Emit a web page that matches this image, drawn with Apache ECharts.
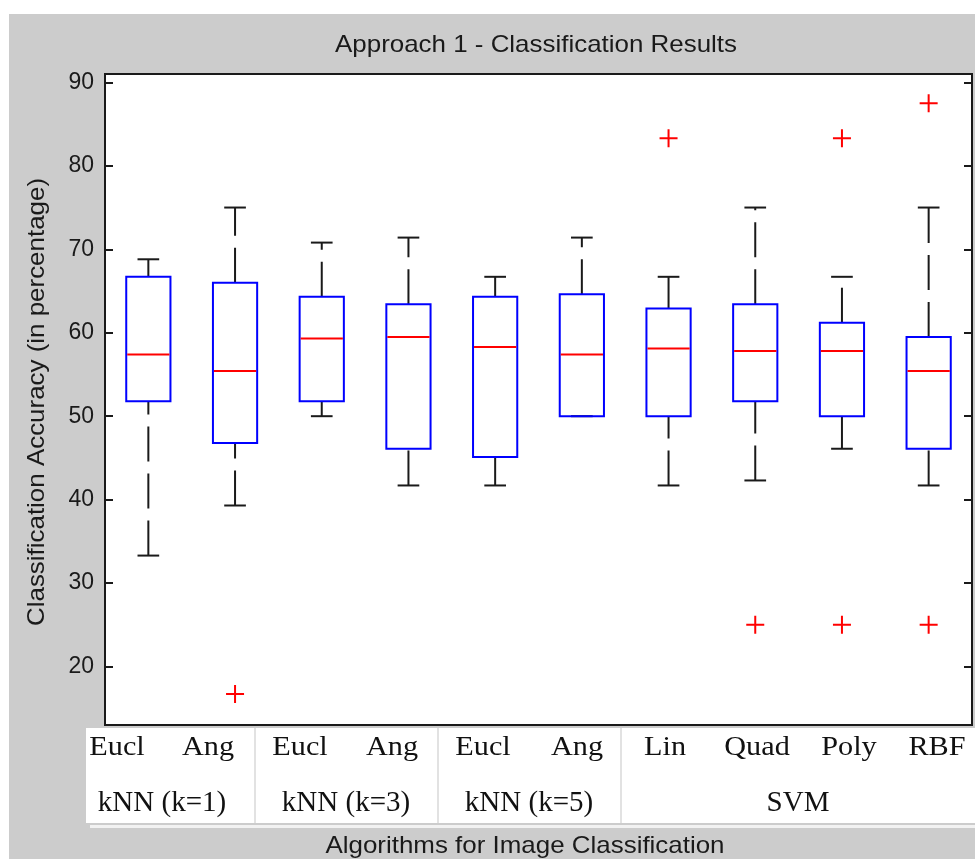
<!DOCTYPE html>
<html><head><meta charset="utf-8">
<script src="https://cdn.jsdelivr.net/npm/echarts@6/dist/echarts.min.js"></script>
<style>html,body{margin:0;padding:0;background:#fff}#c{width:975px;height:859px}</style>
</head><body><div id="c"></div>
<script>
const categories = ['Eucl','Ang','Eucl','Ang','Eucl','Ang','Lin','Quad','Poly','RBF'];
const groupLabels = ['kNN (k=1)','kNN (k=3)','kNN (k=5)','SVM'];
const lowerWhisker = [33.3,39.3,50.0,41.7,41.7,50.0,41.7,42.3,46.1,41.7];
const q1 =           [51.8,46.8,51.8,46.1,45.1,50.0,50.0,51.8,50.0,46.1];
const median =       [57.4,55.4,59.3,59.5,58.3,57.4,58.1,57.8,57.8,55.4];
const q3 =           [66.7,66.0,64.3,63.4,64.3,64.6,62.9,63.4,61.2,59.5];
const upperWhisker = [68.8,75.0,70.8,71.4,66.7,71.4,66.7,75.0,66.7,75.0];
const outliers = [[1,16.7],[6,83.3],[7,25.0],[8,83.3],[8,25.0],[9,87.5],[9,25.0]];
const yTicks = [20,30,40,50,60,70,80,90];

const boxData = categories.map((c,i)=>[i, lowerWhisker[i], q1[i], median[i], q3[i], upperWhisker[i]]);

function renderItem(params, api){
  const i = api.value(0);
  const lo = api.coord([i, api.value(1)]);
  const b1 = api.coord([i, api.value(2)]);
  const md = api.coord([i, api.value(3)]);
  const b3 = api.coord([i, api.value(4)]);
  const hi = api.coord([i, api.value(5)]);
  const band = api.size([1,0])[0];
  const x = lo[0];
  const hw = band*0.255;
  const cw = band*0.125;
  const ch = [];
  const wStyle = {stroke:'#1a1a1a', lineWidth:2, lineDash:[35,12], fill:null};
  const cStyle = {stroke:'#1a1a1a', lineWidth:2, fill:null};
  if (lo[1]-b1[1] > 0.5) ch.push({type:'line', shape:{x1:x,y1:lo[1],x2:x,y2:b1[1]}, style:wStyle});
  if (b3[1]-hi[1] > 0.5) ch.push({type:'line', shape:{x1:x,y1:b3[1],x2:x,y2:hi[1]}, style:wStyle});
  ch.push({type:'line', shape:{x1:x-cw,y1:lo[1],x2:x+cw,y2:lo[1]}, style:cStyle});
  ch.push({type:'line', shape:{x1:x-cw,y1:hi[1],x2:x+cw,y2:hi[1]}, style:cStyle});
  ch.push({type:'rect', shape:{x:x-hw,y:b3[1],width:2*hw,height:b1[1]-b3[1]}, style:{stroke:'#0000ff', lineWidth:2, fill:null}});
  ch.push({type:'line', shape:{x1:x-hw+1,y1:md[1],x2:x+hw-1,y2:md[1]}, style:{stroke:'#ff0000', lineWidth:2}});
  return {type:'group', children:ch};
}

const topCenters = [117,208,300,392,483,577,665,757,849,937];
const groupCenters = [162,346,529,798];
const sepX = [255,438,621];
const serif = '"Liberation Serif","Times New Roman",serif';
const sans = '"Liberation Sans",Arial,sans-serif';

const graphic = [
  {type:'rect', shape:{x:0,y:0,width:975,height:14}, style:{fill:'#ffffff'}},
  {type:'rect', shape:{x:0,y:0,width:9,height:859}, style:{fill:'#ffffff'}},
  {type:'rect', shape:{x:90,y:825,width:885,height:3}, style:{fill:'#f2f2f2'}},
  {type:'rect', shape:{x:86,y:728,width:889,height:95}, style:{fill:'#ffffff'}},
];
sepX.forEach(x=>graphic.push({type:'line', shape:{x1:x,y1:728,x2:x,y2:823}, style:{stroke:'#d8d8d8', lineWidth:1.5}}));
categories.forEach((t,i)=>graphic.push({type:'text', x:topCenters[i], y:748, scaleX:1.12,
  style:{text:t, font:'27px '+serif, fill:'#111', textAlign:'center', textVerticalAlign:'middle'}}));
groupLabels.forEach((t,i)=>graphic.push({type:'text', x:groupCenters[i], y:803, scaleX:1.0,
  style:{text:t, font:'29px '+serif, fill:'#111', textAlign:'center', textVerticalAlign:'middle'}}));
graphic.push({type:'text', x:536, y:45, scaleX:1.08, style:{text:'Approach 1 - Classification Results', font:'24px '+sans, fill:'#1a1a1a', textAlign:'center', textVerticalAlign:'middle'}});
graphic.push({type:'text', x:525, y:846, scaleX:1.08, style:{text:'Algorithms for Image Classification', font:'24px '+sans, fill:'#1a1a1a', textAlign:'center', textVerticalAlign:'middle'}});
graphic.push({type:'text', x:37, y:402, rotation:Math.PI/2, scaleX:1.08, style:{text:'Classification Accuracy (in percentage)', font:'24px '+sans, fill:'#1a1a1a', textAlign:'center', textVerticalAlign:'middle'}});

const yCommon = {
  type:'value', min:13, max:91,
  splitLine:{show:false},
  axisLine:{show:true, lineStyle:{color:'#1a1a1a', width:2}},
  axisTick:{show:true, inside:true, length:8, customValues:yTicks, lineStyle:{color:'#1a1a1a', width:2}},
};

const chart = echarts.init(document.getElementById('c'), null, {renderer:'canvas'});
chart.setOption({
  backgroundColor:'#cccccc',
  animation:false,
  grid:{left:105, top:74, right:3, bottom:134, show:true, backgroundColor:'#ffffff', borderColor:'#1a1a1a', borderWidth:2},
  xAxis:{type:'category', data:categories, boundaryGap:true,
    axisLine:{show:false}, axisTick:{show:false}, axisLabel:{show:false}, splitLine:{show:false}},
  yAxis:[
    Object.assign({}, yCommon, {position:'left',
      axisLabel:{show:true, customValues:yTicks, margin:11, fontSize:23, fontFamily:sans, color:'#1a1a1a'}}),
    Object.assign({}, yCommon, {position:'right', axisLabel:{show:false}})
  ],
  series:[
    {type:'custom', renderItem:renderItem, data:boxData, encode:{x:0, y:[1,2,3,4,5]}, z:2},
    {type:'scatter', data:outliers, symbol:'path://M10,0 L10,20 M0,10 L20,10', symbolSize:18,
      itemStyle:{color:'transparent', borderColor:'#ff0000', borderWidth:2, opacity:1}, z:3}
  ],
  graphic:graphic
});
</script></body></html>
